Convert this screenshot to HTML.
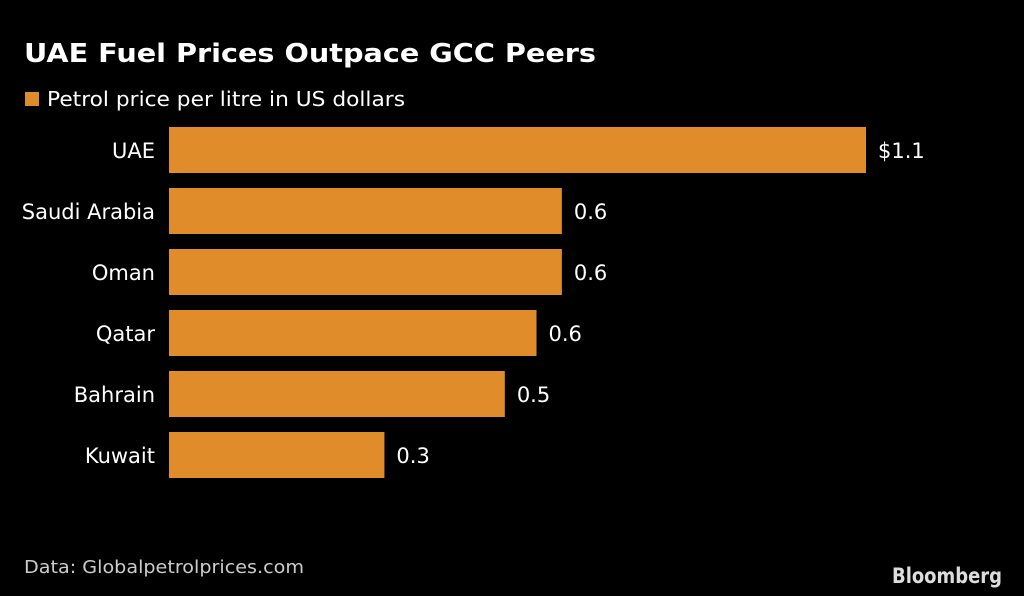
<!DOCTYPE html>
<html><head><meta charset="utf-8"><style>
html,body{margin:0;padding:0;background:#000;}
svg{display:block;}
text{font-family:"DejaVu Sans","Liberation Sans",sans-serif;fill:#fff;}
</style></head><body>
<svg id="chart" width="1024" height="596" viewBox="0 0 1024 596">
<rect width="1024" height="596" fill="#000"/>
<text x="24" y="62" font-size="26" font-weight="bold" textLength="572" lengthAdjust="spacingAndGlyphs">UAE Fuel Prices Outpace GCC Peers</text>
<rect x="25" y="92" width="14" height="14" fill="#e08c2a"/>
<text x="47" y="106" font-size="20" textLength="358" lengthAdjust="spacingAndGlyphs">Petrol price per litre in US dollars</text>
<g id="bars"></g>
<text x="24" y="573" font-size="18" textLength="280" lengthAdjust="spacingAndGlyphs" style="fill:#ccc">Data: Globalpetrolprices.com</text>
<text x="1002" y="583" font-size="21" font-weight="bold" text-anchor="end" textLength="110" lengthAdjust="spacingAndGlyphs" style="fill:#ddd">Bloomberg</text>
</svg>
<script>
const categories = ["UAE","Saudi Arabia","Oman","Qatar","Bahrain","Kuwait"];
const values = [1.1,0.62,0.62,0.58,0.53,0.34];
const valueLabels = ["$1.1","0.6","0.6","0.6","0.5","0.3"];

const x0 = 169, scale = 697/1.1, top0 = 127, pitch = 61, barH = 46;
const xs = v => x0 + v*scale;
const ys = i => top0 + i*pitch;
const NS = "http://www.w3.org/2000/svg";
const g = document.getElementById('bars');
categories.forEach((c,i)=>{
  const r = document.createElementNS(NS,'rect');
  r.setAttribute('x',x0); r.setAttribute('y',ys(i));
  r.setAttribute('width',xs(values[i])-x0); r.setAttribute('height',barH);
  r.setAttribute('fill','#e08c2a');
  
  
  g.appendChild(r);
  const t = document.createElementNS(NS,'text');
  t.setAttribute('x',155); t.setAttribute('y',ys(i)+barH/2+8);
  t.setAttribute('text-anchor','end'); t.setAttribute('font-size','21');
  t.textContent = c;
  
  
  g.appendChild(t);
  const v = document.createElementNS(NS,'text');
  v.setAttribute('x',xs(values[i])+12); v.setAttribute('y',ys(i)+barH/2+8);
  v.setAttribute('font-size','21');
  v.textContent = valueLabels[i];
  
  
  g.appendChild(v);
});
</script>
</body></html>
